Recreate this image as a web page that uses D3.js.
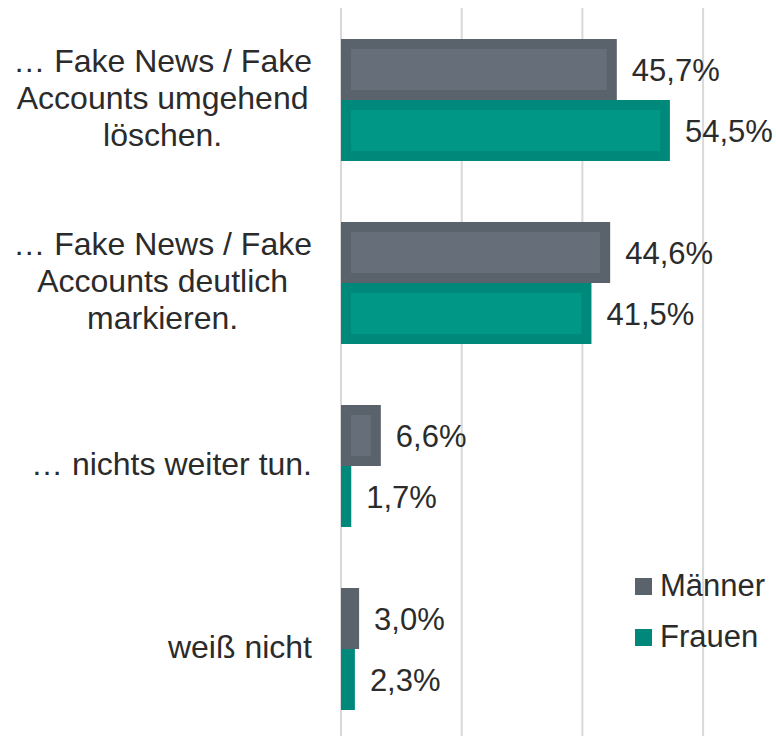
<!DOCTYPE html>
<html>
<head>
<meta charset="utf-8">
<script src="https://cdn.jsdelivr.net/npm/d3@7"></script>
<style>
  body { margin: 0; background: #fff; }
  svg { display: block; font-family: "Liberation Sans", Arial, sans-serif; }
</style>
</head>
<body>
<svg id="chart" width="776" height="736"></svg>
<script>
// data
const categories = [
  ["… Fake News / Fake", "Accounts umgehend", "löschen."],
  ["… Fake News / Fake", "Accounts deutlich", "markieren."],
  ["… nichts weiter tun."],
  ["weiß nicht"]
];
const series = ["Männer", "Frauen"];
const maenner = [45.7, 44.6, 6.6, 3.0];
const frauen = [54.5, 41.5, 1.7, 2.3];
const gridTicks = [0, 20, 40, 60];

const borderColor = { "Männer": "#5a626c", "Frauen": "#00897a" };
const innerColor = { "Männer": "#666f79", "Frauen": "#009786" };
const textColor = "#2b2b2b";

const svg = d3.select("#chart");
const keys = categories.map((c, i) => "c" + i);

const x = d3.scaleLinear().domain([0, 60]).range([341, 703.1]);
const y = d3.scaleBand().domain(keys).range([8.5, 740.5])
  .paddingInner(1 / 3).paddingOuter(1 / 6);
const ySub = d3.scaleBand().domain(series).range([0, y.bandwidth()]);

const rows = keys.map((k, i) => ({ key: k, lines: categories[i], values: { "Männer": maenner[i], "Frauen": frauen[i] } }));

// grid lines
svg.append("g").selectAll("line").data(gridTicks).join("line")
  .attr("x1", d => x(d)).attr("x2", d => x(d))
  .attr("y1", 8).attr("y2", 736)
  .attr("stroke", "#d9d9d9").attr("stroke-width", 2);

// bars
const bars = svg.append("g").selectAll("g").data(rows).join("g")
  .attr("transform", d => `translate(0,${y(d.key)})`);

const bar = bars.selectAll("g").data(d => series.map(s => ({ s, v: d.values[s] }))).join("g");

bar.append("rect")
  .attr("x", x(0))
  .attr("y", d => ySub(d.s))
  .attr("width", d => x(d.v) - x(0))
  .attr("height", ySub.bandwidth())
  .attr("fill", d => borderColor[d.s]);

const inset = 10;
bar.filter(d => x(d.v) - x(0) > inset * 2).append("rect")
  .attr("x", x(0) + inset)
  .attr("y", d => ySub(d.s) + inset)
  .attr("width", d => x(d.v) - x(0) - inset * 2)
  .attr("height", ySub.bandwidth() - inset * 2)
  .attr("fill", d => innerColor[d.s]);

bar.append("text")
  .attr("x", d => x(d.v) + 15)
  .attr("y", d => ySub(d.s) + ySub.bandwidth() / 2 + 11.5)
  .attr("font-size", 31)
  .attr("fill", textColor)
  .text(d => d3.format(".1f")(d.v).replace(".", ",") + "%");

// category labels, lines centred, block right aligned
const labelRight = 312;
const lineH = 37;
rows.forEach(r => {
  const cy = y(r.key) + y.bandwidth() / 2;
  const g = svg.append("g");
  const t = g.selectAll("text").data(r.lines).join("text")
    .attr("font-size", 32)
    .attr("fill", textColor)
    .attr("text-anchor", "middle")
    .attr("y", (d, i) => cy + 9 + (i - (r.lines.length - 1) / 2) * lineH)
    .text(d => d);
  const maxW = d3.max(t.nodes(), n => n.getComputedTextLength());
  t.attr("x", labelRight - maxW / 2);
});

// legend
const legend = svg.append("g").selectAll("g").data(series).join("g")
  .attr("transform", (d, i) => `translate(635,${578 + i * 51})`);
legend.append("rect").attr("width", 17).attr("height", 17)
  .attr("fill", d => borderColor[d]);
legend.append("text")
  .attr("x", 25).attr("y", 18)
  .attr("font-size", 31)
  .attr("fill", textColor)
  .text(d => d);
</script>
</body>
</html>
